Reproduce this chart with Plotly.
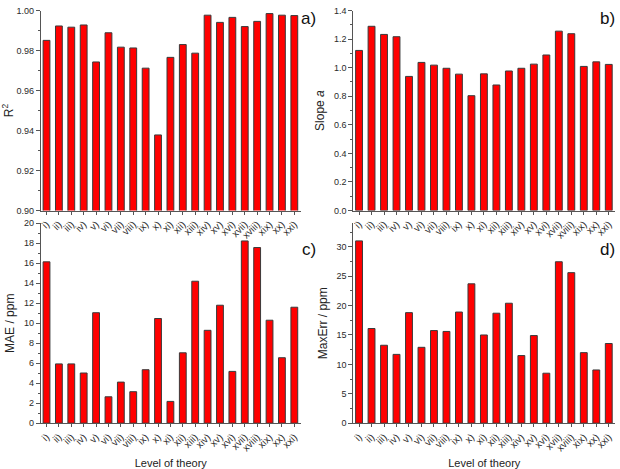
import plotly.graph_objects as go

categories = ["i)", "ii)", "iii)", "iv)", "v)", "vi)", "vii)", "viii)", "ix)", "x)", "xi)",
              "xii)", "xiii)", "xiv)", "xv)", "xvi)", "xvii)", "xviii)", "xix)", "xx)", "xxi)"]

r2 = [0.9851, 0.9923, 0.9917, 0.9928, 0.9743, 0.9889, 0.9817, 0.9813, 0.9712, 0.9378, 0.9766,
      0.9830, 0.9787, 0.9977, 0.9941, 0.9966, 0.9920, 0.9946, 0.9985, 0.9977, 0.9975]
slope = [1.121, 1.290, 1.233, 1.217, 0.939, 1.037, 1.018, 0.996, 0.955, 0.804, 0.957,
         0.879, 0.977, 0.996, 1.025, 1.089, 1.256, 1.238, 1.009, 1.041, 1.023]
mae = [16.14, 5.93, 5.93, 5.02, 11.05, 2.64, 4.11, 3.15, 5.35, 10.47, 2.18,
       7.04, 14.2, 9.29, 11.8, 5.18, 18.23, 17.57, 10.3, 6.55, 11.6]
maxerr = [31.0, 16.1, 13.25, 11.7, 18.8, 12.9, 15.75, 15.6, 18.9, 23.7, 15.0,
          18.7, 20.4, 11.5, 14.9, 8.5, 27.45, 25.6, 12.0, 9.05, 13.55]

W, H = 620, 469
FONT = "Liberation Sans, Arial, sans-serif"
TICKC = "#2a2a2a"
AXC = "#555555"

fig = go.Figure()

panels = [
    (r2, "x", "y"),
    (slope, "x2", "y2"),
    (mae, "x3", "y3"),
    (maxerr, "x4", "y4"),
]
for vals, xa, ya in panels:
    fig.add_trace(go.Bar(
        x=list(range(len(categories))), y=vals, xaxis=xa, yaxis=ya,
        marker=dict(color="#FF0000", line=dict(color="#3a3a3a", width=1)),
        width=0.55, showlegend=False,
    ))

def px_x(a, b):
    return [a / W, b / W]

def px_y(top, bot):
    return [1 - bot / H, 1 - top / H]

xdom_l = px_x(40, 300)
xdom_r = px_x(353, 615)
ydom_t = px_y(5.7, 210)
ydom_b = px_y(223, 427.3)

def xaxis(dom, anchor, title=None):
    d = dict(
        domain=dom, anchor=anchor, range=[-0.45, 20.5],
        tickmode="array", tickvals=list(range(len(categories))), ticktext=categories,
        tickangle=-45, tickfont=dict(family=FONT, size=10, color=TICKC),
        showline=True, linecolor=AXC, linewidth=1.2,
        ticks="outside", ticklen=3, tickcolor=AXC,
        showgrid=False, zeroline=False,
    )
    if title:
        d["title"] = dict(text=title, font=dict(family=FONT, size=11, color="#222"), standoff=6)
    return d

def yaxis(dom, anchor, rng, dtick, fmt, title, minor_dtick):
    return dict(
        domain=dom, anchor=anchor, range=rng, dtick=dtick, tick0=rng[0], tickformat=fmt,
        tickfont=dict(family=FONT, size=9, color=TICKC),
        showline=True, linecolor=AXC, linewidth=1.2,
        ticks="outside", ticklen=4, tickcolor=AXC,
        minor=dict(dtick=minor_dtick, ticks="outside", ticklen=2, tickcolor=AXC, showgrid=False),
        showgrid=False, zeroline=False,
        title=dict(text=title, font=dict(family=FONT, size=12, color="#222"), standoff=6),
    )

fig.update_layout(
    width=W, height=H,
    margin=dict(l=0, r=0, t=0, b=0),
    paper_bgcolor="white", plot_bgcolor="white",
    bargap=0.4,
    xaxis=xaxis(xdom_l, "y"),
    yaxis=yaxis(ydom_t, "x", [0.90, 1.00], 0.02, ".2f", "R<sup>2</sup>", 0.01),
    xaxis2=xaxis(xdom_r, "y2"),
    yaxis2=yaxis(ydom_t, "x2", [0.0, 1.4], 0.2, ".1f", "Slope <i>a</i>", 0.1),
    xaxis3=xaxis(xdom_l, "y3", "Level of theory"),
    yaxis3=yaxis(ydom_b, "x3", [0, 20], 2, "d", "MAE / ppm", 1),
    xaxis4=xaxis(xdom_r, "y4", "Level of theory"),
    yaxis4=yaxis(ydom_b, "x4", [0, 34], 5, "d", "MaxErr / ppm", 2.5),
)

for txt, x, y in [("a)", 318, 14), ("b)", 617, 14), ("c)", 318, 250), ("d)", 617, 250)]:
    fig.add_annotation(text=txt, x=x / W, y=1 - y / H, xref="paper", yref="paper",
                       xanchor="right", yanchor="middle", showarrow=False,
                       font=dict(family=FONT, size=17, color="#111"))

fig.write_html("out.html")
